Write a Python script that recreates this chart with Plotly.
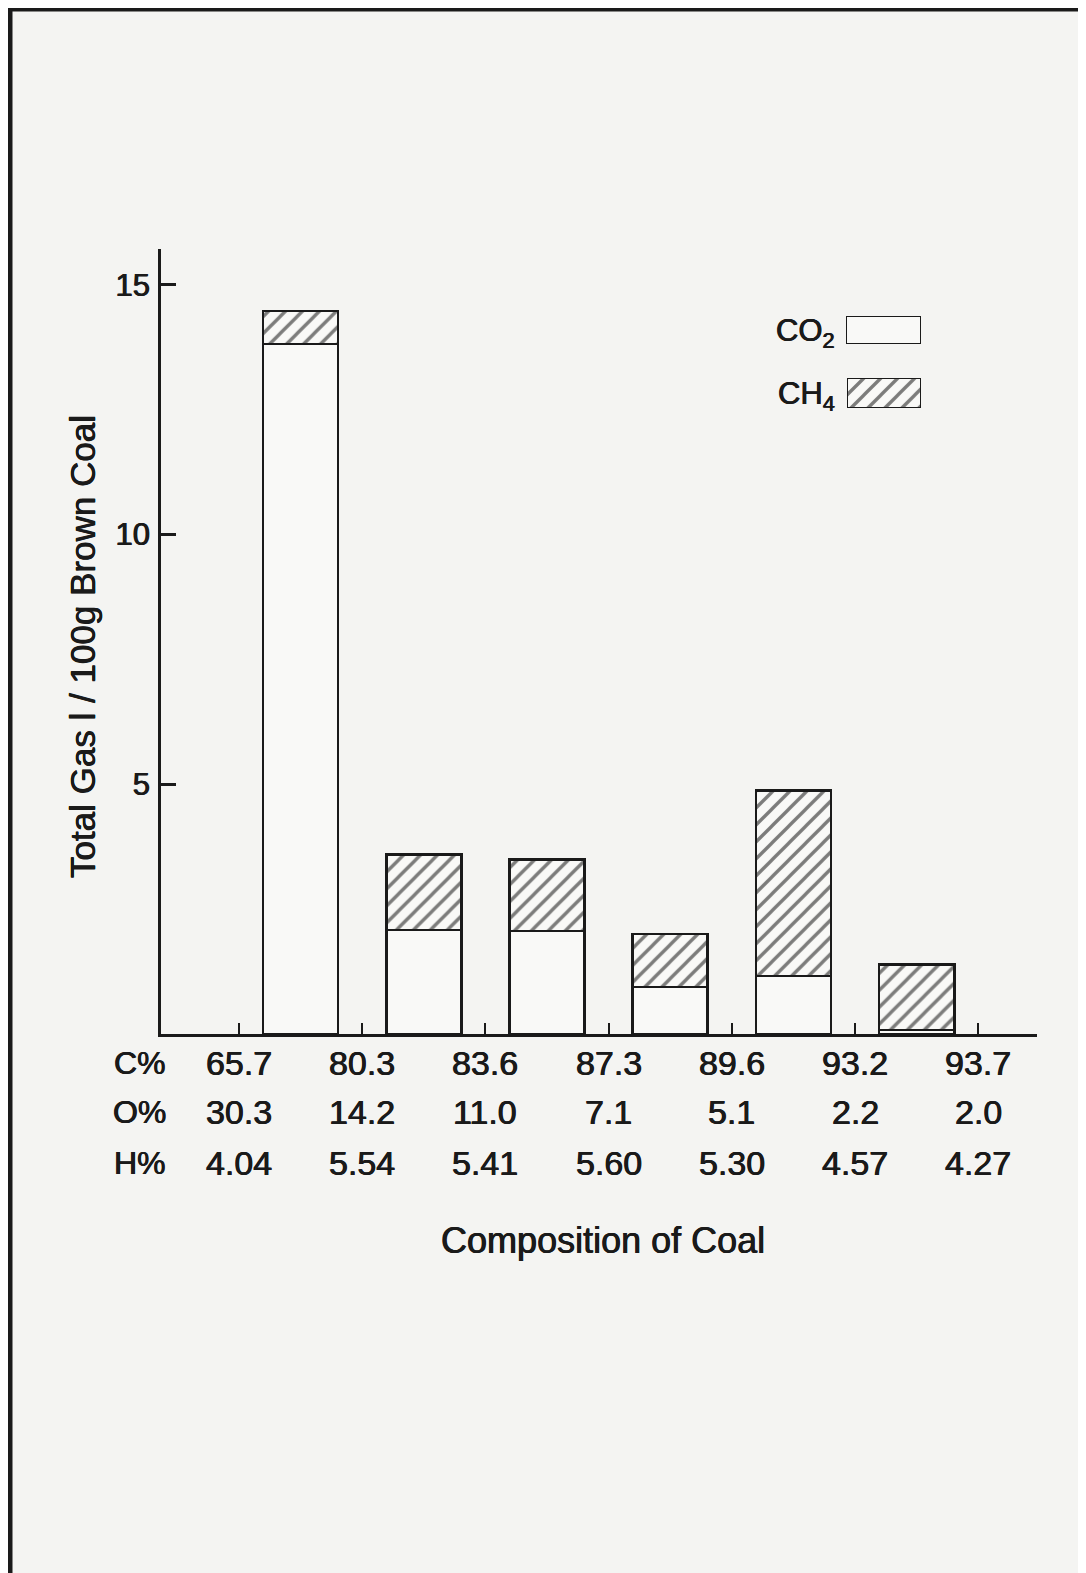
import plotly.graph_objects as go
import numpy as np

# ---- data ----
carbon_pct = ["65.7", "80.3", "83.6", "87.3", "89.6", "93.2", "93.7"]
oxygen_pct = ["30.3", "14.2", "11.0", "7.1", "5.1", "2.2", "2.0"]
hydrogen_pct = ["4.04", "5.54", "5.41", "5.60", "5.30", "4.57", "4.27"]
co2_values = [13.82, 2.08, 2.06, 0.94, 1.16, 0.08]
ch4_values = [0.66, 1.52, 1.44, 1.06, 3.72, 1.31]
y_ticks = [5, 10, 15]

# ---- geometry helpers (layout only) ----
OFF = 8  # page body margin
W, H = 1078, 1565
PLOT_L, PLOT_R, PLOT_T, PLOT_B = 161, 1037, 249, 1034  # page coords
L = PLOT_L - OFF
T = PLOT_T - OFF
R = W - (PLOT_R - OFF)
B = H - (PLOT_B - OFF)
PW, PH = W - L - R, H - T - B


def px(xp):
    return (xp - OFF - L) / PW


def py(yp):
    return (H - B - (yp - OFF)) / PH


FONT = "Liberation Sans, Arial, Helvetica, sans-serif"
INK = "#1a1a1a"
PAPER = "#f4f4f2"
FILL = "#f9f9f7"
SHADOW = "0.4px 0 0 #1a1a1a, -0.4px 0 0 #1a1a1a"


def f(size):
    return dict(size=size, family=FONT, color=INK, shadow=SHADOW)


comp_x = np.arange(len(carbon_pct))
bar_x = comp_x[:-1] + 0.5

hatch = dict(shape="/", fgcolor="#000000", bgcolor=FILL, size=12, solidity=0.28)

fig = go.Figure()
fig.add_trace(go.Bar(
    x=bar_x, y=co2_values, width=0.61, name="CO2",
    marker=dict(color=FILL, line=dict(color=INK, width=2.6)),
    showlegend=False,
))
fig.add_trace(go.Bar(
    x=bar_x, y=ch4_values, width=0.61, name="CH4",
    marker=dict(color=FILL, line=dict(color=INK, width=2.6), pattern=hatch),
    showlegend=False,
))

# legend swatches on small overlay axes
fig.add_trace(go.Bar(x=[0], y=[1], width=1, xaxis="x2", yaxis="y2", showlegend=False,
                     marker=dict(color=FILL, line=dict(color=INK, width=2.6))))
fig.add_trace(go.Bar(x=[0], y=[1], width=1, xaxis="x3", yaxis="y3", showlegend=False,
                     marker=dict(color=FILL, line=dict(color=INK, width=2.6), pattern=hatch)))

hidden = dict(visible=False, fixedrange=True)
fig.update_layout(
    width=W, height=H,
    margin=dict(l=L, r=R, t=T, b=B, autoexpand=False),
    paper_bgcolor=PAPER, plot_bgcolor=PAPER,
    barmode="stack",
    font=dict(family=FONT, color=INK, size=30),
    xaxis=dict(range=[-0.633, 6.477], showline=True, linecolor=INK, linewidth=2.6,
               tickvals=list(comp_x), showticklabels=False, ticks="inside",
               ticklen=11, tickwidth=2, tickcolor=INK, showgrid=False, zeroline=False),
    yaxis=dict(range=[0, 15.72], showline=True, linecolor=INK, linewidth=2.6,
               tickvals=y_ticks, ticktext=[str(v) for v in y_ticks], ticks="inside",
               ticklen=15, tickwidth=2.5, tickcolor=INK, showgrid=False, zeroline=False,
               tickfont=f(31), ticklabelstandoff=2),
    xaxis2=dict(domain=[px(846), px(921)], range=[-0.5, 0.5], anchor="y2", **hidden),
    yaxis2=dict(domain=[py(344), py(316)], range=[0, 1], anchor="x2", **hidden),
    xaxis3=dict(domain=[px(847), px(921)], range=[-0.5, 0.5], anchor="y3", **hidden),
    yaxis3=dict(domain=[py(408), py(378)], range=[0, 1], anchor="x3", **hidden),
)

ann = []
# composition rows
rows = [("C%", carbon_pct, 1063), ("O%", oxygen_pct, 1112), ("H%", hydrogen_pct, 1163)]
for label, vals, ypix in rows:
    ann.append(dict(text=label, xref="paper", yref="paper", x=px(168), y=py(ypix),
                    xanchor="right", yanchor="middle", showarrow=False, font=f(32)))
    for xi, v in zip(comp_x, vals):
        ann.append(dict(text=v, xref="x", yref="paper", x=xi, y=py(ypix),
                        xanchor="center", yanchor="middle", showarrow=False, font=f(34)))

ann.append(dict(text="Composition of Coal", xref="paper", yref="paper", x=px(603), y=py(1240),
                xanchor="center", yanchor="middle", showarrow=False, font=f(36)))
ann.append(dict(text="Total Gas l / 100g Brown Coal", xref="paper", yref="paper",
                x=px(82), y=py(647), textangle=-90, xanchor="center", yanchor="middle",
                showarrow=False, font=f(35)))
# legend texts
ann.append(dict(text="CO<sub>2</sub>", xref="paper", yref="paper", x=px(837), y=py(333),
                xanchor="right", yanchor="middle", showarrow=False, font=f(31)))
ann.append(dict(text="CH<sub>4</sub>", xref="paper", yref="paper", x=px(837), y=py(396),
                xanchor="right", yanchor="middle", showarrow=False, font=f(31)))
fig.update_layout(annotations=ann)

# page frame (scan border)
fig.add_shape(type="line", xref="paper", yref="paper", x0=px(8), x1=px(1100), y0=py(9), y1=py(9),
              line=dict(color=INK, width=5))
fig.add_shape(type="line", xref="paper", yref="paper", x0=px(10), x1=px(10), y0=py(7), y1=py(1600),
              line=dict(color=INK, width=5))

fig.write_html("out.html")
